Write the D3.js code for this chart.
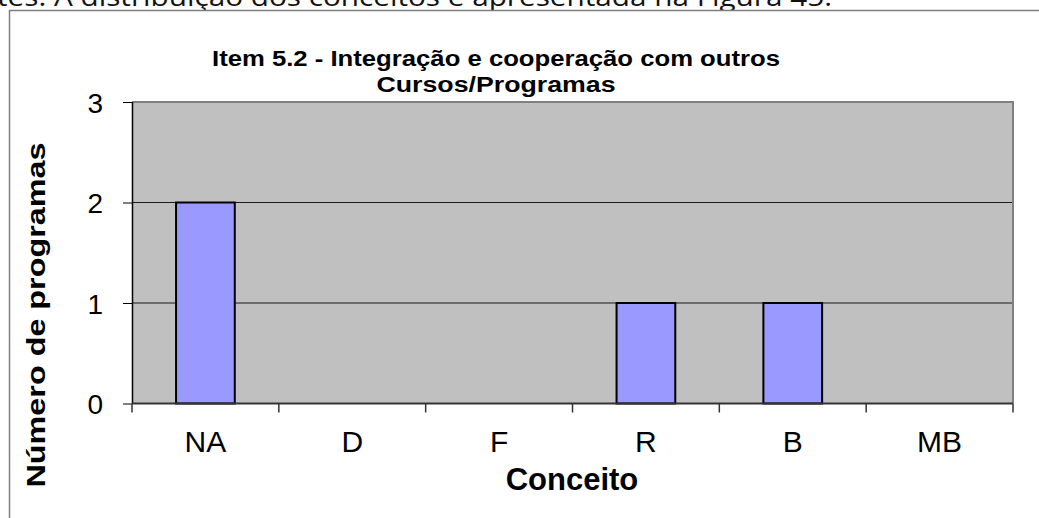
<!DOCTYPE html>
<html>
<head>
<meta charset="utf-8">
<script src="https://cdn.jsdelivr.net/npm/d3@7"></script>
<style>
  html, body { margin: 0; padding: 0; background: #fff; overflow: hidden; }
  svg { display: block; }
</style>
</head>
<body>
<svg id="chart"></svg>
<script>
// data
const categories = ["NA", "D", "F", "R", "B", "MB"];
const counts = [2, 0, 0, 1, 1, 0];
const yTicks = [0, 1, 2, 3];
const titleLines = ["Item 5.2 - Integração e cooperação com outros", "Cursos/Programas"];
const titleWidths = [568, 239];
const xTitle = "Conceito";
const yTitle = "Número de programas";
const pageText = "tes. A distribuição dos conceitos é apresentada na Figura 45.";

const W = 1039, H = 518;
const svg = d3.select("#chart").attr("width", W).attr("height", H);

// clipped line of body text above the figure
svg.append("text")
  .attr("x", -3).attr("y", 6)
  .attr("font-family", "Open Sans, sans-serif")
  .attr("font-size", 26)
  .attr("fill", "#111")
  .attr("textLength", 835)
  .attr("lengthAdjust", "spacingAndGlyphs")
  .text(pageText);

// outer chart frame (runs off right and bottom)
svg.append("rect")
  .attr("x", 9.5).attr("y", 10.5)
  .attr("width", W + 20).attr("height", H + 20)
  .attr("fill", "#fff")
  .attr("stroke", "#7f7f7f")
  .attr("stroke-width", 1.5);

const plot = {left: 132, right: 1013, top: 102, bottom: 403.5};

const x = d3.scaleBand()
  .domain(categories)
  .range([plot.left, plot.right])
  .padding(0);

const y = d3.scaleLinear()
  .domain([0, 3])
  .range([plot.bottom, plot.top]);

const font = "Liberation Sans, Arial, sans-serif";

// plot background
svg.append("rect")
  .attr("x", plot.left).attr("y", plot.top)
  .attr("width", plot.right - plot.left)
  .attr("height", plot.bottom - plot.top)
  .attr("fill", "#c0c0c0");

// gridlines
svg.append("g")
  .selectAll("line")
  .data(yTicks.filter(d => d > 0 && d < 3))
  .join("line")
  .attr("x1", plot.left).attr("x2", plot.right)
  .attr("y1", d => y(d)).attr("y2", d => y(d))
  .attr("stroke", "#1a1a1a")
  .attr("stroke-width", 1);

// plot border top/right
svg.append("path")
  .attr("d", `M${plot.left},${plot.top}H${plot.right}V${plot.bottom}`)
  .attr("fill", "none")
  .attr("stroke", "#808080")
  .attr("stroke-width", 2);

// bars
const barW = x.bandwidth() * 0.4;
svg.append("g")
  .selectAll("rect")
  .data(counts.map((v, i) => ({cat: categories[i], v})).filter(d => d.v > 0))
  .join("rect")
  .attr("x", d => x(d.cat) + (x.bandwidth() - barW) / 2)
  .attr("y", d => y(d.v))
  .attr("width", barW)
  .attr("height", d => y(0) - y(d.v))
  .attr("fill", "#9999ff")
  .attr("stroke", "#000")
  .attr("stroke-width", 2);

// y axis
const yAxis = d3.axisLeft(y).tickValues(yTicks).tickSize(9).tickPadding(20).tickFormat(d3.format("d"));
const gy = svg.append("g").attr("transform", `translate(${plot.left},0)`).call(yAxis);
gy.select(".domain").attr("stroke", "#000").attr("stroke-width", 1.5)
  .attr("d", `M0.5,${plot.top}V${plot.bottom}`);
gy.selectAll(".tick line").attr("stroke", "#000");
gy.selectAll(".tick text")
  .attr("font-family", font).attr("font-size", 28).attr("fill", "#000")
  .attr("dy", "0.36em");

// x axis: ticks at band edges
const edges = categories.map(c => x(c)).concat([plot.right]);
const gx = svg.append("g");
gx.append("line")
  .attr("x1", plot.left).attr("x2", plot.right)
  .attr("y1", plot.bottom).attr("y2", plot.bottom)
  .attr("stroke", "#333").attr("stroke-width", 2);
gx.selectAll("line.tk")
  .data(edges)
  .join("line")
  .attr("class", "tk")
  .attr("x1", d => d).attr("x2", d => d)
  .attr("y1", plot.bottom).attr("y2", plot.bottom + 9)
  .attr("stroke", "#333").attr("stroke-width", 1.5);
gx.selectAll("text")
  .data(categories)
  .join("text")
  .attr("x", d => x(d) + x.bandwidth() / 2)
  .attr("y", 452)
  .attr("text-anchor", "middle")
  .attr("font-family", font).attr("font-size", 30).attr("fill", "#000")
  .text(d => d);

// titles
svg.append("g")
  .selectAll("text")
  .data(titleLines)
  .join("text")
  .attr("x", 496)
  .attr("y", (d, i) => 66 + i * 26)
  .attr("text-anchor", "middle")
  .attr("font-family", font).attr("font-weight", "bold")
  .attr("font-size", 22.5).attr("fill", "#000")
  .attr("textLength", (d, i) => titleWidths[i])
  .attr("lengthAdjust", "spacingAndGlyphs")
  .text(d => d);

svg.append("text")
  .attr("x", 572).attr("y", 490)
  .attr("text-anchor", "middle")
  .attr("font-family", font).attr("font-weight", "bold")
  .attr("font-size", 31).attr("fill", "#000")
  .text(xTitle);

svg.append("text")
  .attr("transform", "translate(45,315) rotate(-90)")
  .attr("text-anchor", "middle")
  .attr("font-family", font).attr("font-weight", "bold")
  .attr("font-size", 25).attr("fill", "#000")
  .attr("textLength", 345)
  .attr("lengthAdjust", "spacingAndGlyphs")
  .text(yTitle);
</script>
</body>
</html>
